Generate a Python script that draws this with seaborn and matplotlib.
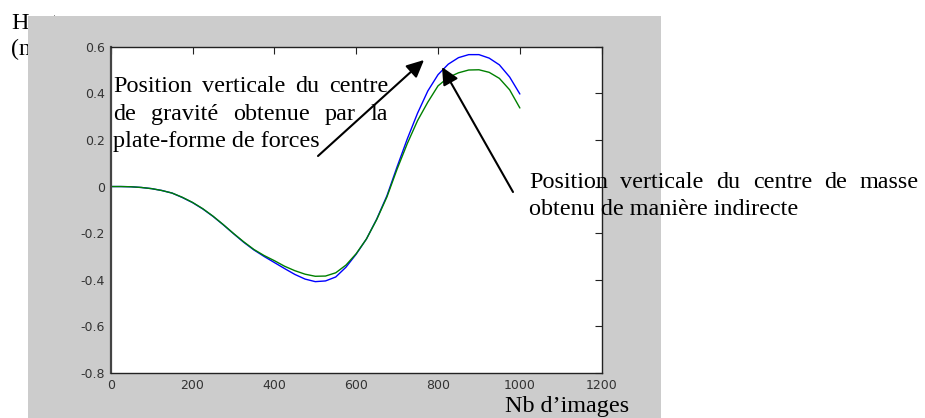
import numpy as np
import pandas as pd
import matplotlib
matplotlib.use('Agg')
import matplotlib.pyplot as plt
import seaborn as sns
from matplotlib.patches import Rectangle, FancyArrowPatch

# ---------------- data ----------------
frames = [0, 25, 50, 75, 100, 125, 150, 175, 200, 225, 250, 275, 300, 325, 350,
          375, 400, 425, 450, 475, 500, 525, 550, 575, 600, 625, 650, 675, 700,
          725, 750, 775, 800, 825, 850, 875, 900, 925, 950, 975, 1000]
cog_force_platform = [0.000, 0.000, -0.001, -0.004, -0.009, -0.017, -0.028, -0.047,
                      -0.069, -0.096, -0.128, -0.164, -0.202, -0.239, -0.272, -0.300,
                      -0.326, -0.352, -0.377, -0.397, -0.408, -0.405, -0.388, -0.346,
                      -0.290, -0.225, -0.140, -0.040, 0.085, 0.205, 0.315, 0.410,
                      0.480, 0.525, 0.553, 0.566, 0.566, 0.551, 0.522, 0.470, 0.397]
com_indirect = [0.000, 0.000, -0.001, -0.004, -0.009, -0.017, -0.028, -0.046,
                -0.068, -0.095, -0.127, -0.163, -0.201, -0.237, -0.270, -0.296,
                -0.318, -0.342, -0.361, -0.376, -0.385, -0.384, -0.370, -0.337,
                -0.288, -0.225, -0.142, -0.045, 0.075, 0.185, 0.283, 0.362,
                0.432, 0.468, 0.488, 0.500, 0.501, 0.490, 0.464, 0.415, 0.337]

x_ticks = [0, 200, 400, 600, 800, 1000, 1200]
x_tick_labels = ['0', '200', '400', '600', '800', '1000', '1200']
y_ticks = [-0.8, -0.6, -0.4, -0.2, 0, 0.2, 0.4, 0.6]
y_tick_labels = ['-0.8', '-0.6', '-0.4', '-0.2', '0', '0.2', '0.4', '0.6']

ylabel_lines = ['Hauteur', '(m)']
xlabel_text = 'Nb d\u2019images'
note1_lines = ['Position verticale du centre', 'de gravité obtenue par la', 'plate-forme de forces']
note2_lines = ['Position verticale du centre de masse', 'obtenu de manière indirecte']

df = pd.DataFrame({'frame': frames, 'cog': cog_force_platform, 'com': com_indirect})

# ---------------- figure ----------------
sns.set_theme(style='white')
plt.rcParams['font.family'] = ['DejaVu Sans']

W, H = 925, 418
fig = plt.figure(figsize=(W / 100, H / 100), dpi=100)
fig.patch.set_facecolor('white')

def fx(px):
    return px / W

def fy(py):
    return 1 - py / H

SERIF = dict(family=['Liberation Serif', 'DejaVu Serif'], size=17.4, color='black')

# labels behind the grey panel
fig.text(fx(11), fy(29), ylabel_lines[0], va='baseline', ha='left', zorder=-3, **SERIF)
fig.text(fx(11), fy(55), ylabel_lines[1], va='baseline', ha='left', zorder=-3, **SERIF)

fig.add_artist(Rectangle((fx(28), 0), fx(661) - fx(28), fy(16), transform=fig.transFigure,
                         facecolor='#cccccc', edgecolor='none', zorder=-2))

ax = fig.add_axes([fx(110.7), fy(373), fx(601.7) - fx(110.7), (373 - 46.7) / H])
ax.set_facecolor('white')

sns.lineplot(data=df, x='frame', y='cog', color='#0000ff', lw=1.0, ax=ax, legend=False)
sns.lineplot(data=df, x='frame', y='com', color='#008000', lw=1.0, ax=ax, legend=False)

ax.set_xlim(0, 1200)
ax.set_ylim(-0.8, 0.6)
ax.set_xticks(x_ticks)
ax.set_xticklabels(x_tick_labels)
ax.set_yticks(y_ticks)
ax.set_yticklabels(y_tick_labels)
ax.set_xlabel('')
ax.set_ylabel('')
ax.tick_params(direction='in', length=5, width=0.8, color='#222222', top=True, right=True,
               labelsize=9, labelcolor='#333333', pad=4)
for s in ax.spines.values():
    s.set_visible(True)
    s.set_color('#222222')
    s.set_linewidth(1.0)
ax.spines['left'].set_linewidth(1.6)
ax.spines['left'].set_color('#444444')

fig.text(fx(505), fy(412), xlabel_text, va='baseline', ha='left', zorder=4, **SERIF)

# justified annotation text
renderer = fig.canvas.get_renderer()

def justified(line, x0, x1, ybase):
    words = line.split()
    texts = [fig.text(0, fy(ybase), w, va='baseline', ha='left', zorder=4, **SERIF) for w in words]
    widths = [t.get_window_extent(renderer).width for t in texts]
    gap = (x1 - x0 - sum(widths)) / (len(words) - 1)
    x = x0
    for t, w in zip(texts, widths):
        t.set_x(fx(x))
        x += w + gap

justified(note1_lines[0], 113, 388, 92)
justified(note1_lines[1], 113, 388, 120)
fig.text(fx(113), fy(147), note1_lines[2], va='baseline', ha='left', zorder=4, **SERIF)

justified(note2_lines[0], 529, 919, 188)
fig.text(fx(529), fy(215), note2_lines[1], va='baseline', ha='left', zorder=4, **SERIF)

# arrows
for (xa, ya), (xb, yb) in [((318, 156), (424, 60)), ((513, 192), (442, 67))]:
    arr = FancyArrowPatch((fx(xa), fy(ya)), (fx(xb), fy(yb)), transform=fig.transFigure,
                          arrowstyle='-|>,head_length=10.5,head_width=5.0', mutation_scale=1,
                          lw=1.5, color='black', shrinkA=0, shrinkB=0, zorder=5)
    fig.add_artist(arr)

fig.savefig('out.png', dpi=100, facecolor='white')
